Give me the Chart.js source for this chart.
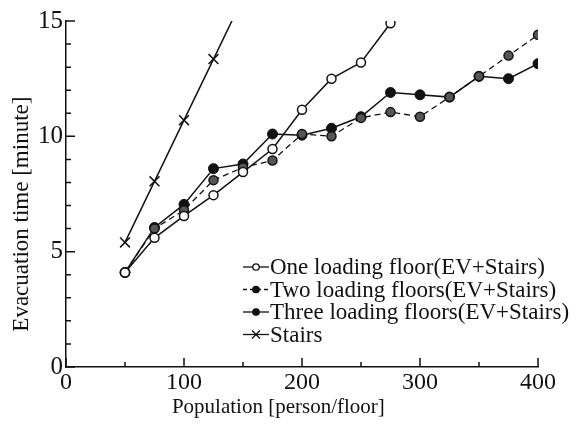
<!DOCTYPE html>
<html>
<head>
<meta charset="utf-8">
<script src="https://cdn.jsdelivr.net/npm/chart.js@4.4.1/dist/chart.umd.min.js"></script>
<style>
  body { margin: 0; background: #fff; }
  canvas { display: block; }
</style>
</head>
<body>
<canvas id="evacChart" width="583" height="428"></canvas>
<script>
// Data (x = population per floor, y = minutes)
const population = [50, 75, 100, 125, 150, 175, 200, 225, 250, 275, 300, 325, 350, 375, 400];
const oneFloor = [4.1, 5.6, 6.55, 7.45, 8.45, 9.45, 11.15, 12.5, 13.2, 14.9];
const twoFloors = [4.1, 6.0, 6.8, 8.1, 8.65, 8.95, 10.1, 10.0, 10.8, 11.05, 10.85, 11.7, 12.6, 13.5, 14.4];
const threeFloors = [4.1, 6.05, 7.05, 8.6, 8.8, 10.1, 10.05, 10.35, 10.85, 11.9, 11.8, 11.7, 12.6, 12.5, 13.15];
const stairs = [5.4, 8.05, 10.7, 13.35, 16.0];

const seriesLabels = [
  "One loading floor(EV+Stairs)",
  "Two loading floors(EV+Stairs)",
  "Three loading floors(EV+Stairs)",
  "Stairs",
];

const INK = "#111";
const SERIF = "'Liberation Serif', 'DejaVu Serif', serif";
const NBSP = "\u00a0";

function toPoints(values) {
  return values.map((v, i) => ({ x: population[i], y: v }));
}

// Ticks point inward on this figure, so draw them ourselves from the scales
const innerTicks = {
  id: "innerTicks",
  afterDraw(chart) {
    const { ctx, chartArea: a, scales } = chart;
    ctx.save();
    ctx.strokeStyle = INK;
    ctx.lineWidth = 1.5;
    ctx.beginPath();
    for (let v = 0; v <= 400; v += 50) {
      const px = scales.x.getPixelForValue(v);
      const len = v % 100 === 0 ? 9 : 5;
      ctx.moveTo(px, a.bottom);
      ctx.lineTo(px, a.bottom - len);
    }
    for (let v = 0; v <= 15; v += 1) {
      const py = scales.y.getPixelForValue(v);
      const len = v % 5 === 0 ? 9 : 5;
      ctx.moveTo(a.left, py);
      ctx.lineTo(a.left + len, py);
    }
    ctx.stroke();
    ctx.restore();
  },
};

// Legend sits inside the plot, lower right
const insideLegend = {
  id: "insideLegend",
  afterDraw(chart) {
    const { ctx } = chart;
    const x0 = 243, x1 = 269, rowY = 267, rowGap = 22.5;
    ctx.save();
    ctx.font = "23px " + SERIF;
    ctx.textBaseline = "middle";
    chart.data.datasets.forEach((ds, i) => {
      const y = rowY + i * rowGap;
      ctx.strokeStyle = INK;
      ctx.lineWidth = 1.3;
      ctx.setLineDash(ds.borderDash ? [4, 3] : []);
      ctx.beginPath();
      ctx.moveTo(x0, y);
      ctx.lineTo(x1, y);
      ctx.stroke();
      ctx.setLineDash([]);
      const mx = (x0 + x1) / 2;
      ctx.beginPath();
      if (ds.pointStyle === "crossRot") {
        ctx.moveTo(mx - 4, y - 4); ctx.lineTo(mx + 4, y + 4);
        ctx.moveTo(mx - 4, y + 4); ctx.lineTo(mx + 4, y - 4);
        ctx.stroke();
      } else {
        ctx.arc(mx, y, 3.2, 0, Math.PI * 2);
        ctx.fillStyle = ds.pointBackgroundColor === "#fff" ? "#fff" : INK;
        ctx.fill();
        ctx.stroke();
      }
      ctx.fillStyle = INK;
      ctx.fillText(ds.label, x1 + 1, y + 1);
    });
    ctx.restore();
  },
};

const ctx = document.getElementById("evacChart").getContext("2d");
new Chart(ctx, {
  type: "line",
  data: {
    datasets: [
      {
        label: seriesLabels[0],
        data: toPoints(oneFloor),
        borderColor: INK,
        borderWidth: 1.5,
        pointStyle: "circle",
        pointRadius: 4.5,
        pointBorderWidth: 1.5,
        pointBorderColor: INK,
        pointBackgroundColor: "#fff",
      },
      {
        label: seriesLabels[1],
        data: toPoints(twoFloors),
        borderColor: INK,
        borderWidth: 1.3,
        borderDash: [6, 4],
        pointStyle: "circle",
        pointRadius: 4.5,
        pointBorderWidth: 1.5,
        pointBorderColor: INK,
        pointBackgroundColor: "#555",
      },
      {
        label: seriesLabels[2],
        data: toPoints(threeFloors),
        borderColor: INK,
        borderWidth: 1.5,
        pointStyle: "circle",
        pointRadius: 5,
        pointBorderWidth: 1,
        pointBorderColor: INK,
        pointBackgroundColor: INK,
      },
      {
        label: seriesLabels[3],
        data: toPoints(stairs),
        borderColor: INK,
        borderWidth: 1.5,
        pointStyle: "crossRot",
        pointRadius: 7,
        pointBorderWidth: 1.5,
        pointBorderColor: INK,
      },
    ],
  },
  options: {
    responsive: false,
    animation: false,
    layout: { padding: { top: 21, right: 45, left: 0, bottom: 0 } },
    plugins: {
      legend: { display: false },
      tooltip: { enabled: false },
    },
    scales: {
      x: {
        type: "linear",
        min: 0,
        max: 400,
        afterFit: (scale) => { scale.height = 61; },
        ticks: {
          stepSize: 100,
          color: INK,
          padding: 1,
          font: { family: SERIF, size: 24 },
        },
        grid: { drawOnChartArea: false, drawTicks: false },
        border: { color: INK, width: 1.5 },
        title: {
          display: true,
          // trailing spaces nudge the centred title left, as in the figure
          text: "Population [person/floor]" + NBSP.repeat(9),
          color: INK,
          font: { family: SERIF, size: 21 },
          padding: { top: 0, bottom: 8 },
        },
      },
      y: {
        min: 0,
        max: 15,
        afterFit: (scale) => { scale.width = 66; },
        ticks: {
          stepSize: 5,
          color: INK,
          padding: 3,
          font: { family: SERIF, size: 25 },
        },
        grid: { drawOnChartArea: false, drawTicks: false },
        border: { color: INK, width: 1.5 },
        title: {
          display: true,
          // trailing spaces nudge the rotated title downward
          text: "Evacuation time [minute]" + NBSP.repeat(7),
          color: INK,
          font: { family: SERIF, size: 23 },
          padding: { top: 8, bottom: 0 },
        },
      },
    },
  },
  plugins: [innerTicks, insideLegend],
});
</script>
</body>
</html>
